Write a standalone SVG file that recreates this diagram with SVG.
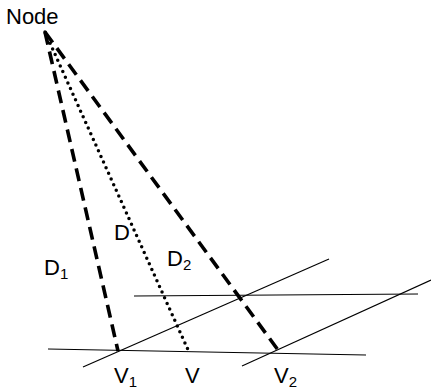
<svg xmlns="http://www.w3.org/2000/svg" width="431" height="391" viewBox="0 0 431 391">
<style>
text{font-family:"Liberation Sans",Arial,sans-serif;fill:#000}
.lbl{font-size:22px}
.sub{font-size:15px}
.thin{stroke:#000;stroke-width:1.2;fill:none}
.dash{stroke:#000;stroke-width:3.6;stroke-dasharray:13 7;fill:none}
.dot{stroke:#000;stroke-width:3.5;stroke-linecap:round;stroke-dasharray:0 6.2;fill:none}
</style>
<rect width="431" height="391" fill="#fff"/>
<g id="planes">
<line class="thin" x1="48" y1="349" x2="366" y2="355"/>
<line class="thin" x1="134" y1="296" x2="418" y2="294"/>
<line class="thin" x1="83" y1="367" x2="329" y2="259"/>
<line class="thin" x1="242" y1="366" x2="431" y2="280"/>
</g>
<g id="connectors">
<line class="dash" x1="45" y1="32" x2="118" y2="351"/>
<line class="dot" x1="45" y1="32" x2="189" y2="352"/>
<line class="dash" x1="45" y1="32" x2="278" y2="350"/>
</g>
<g id="node"><text class="lbl" x="6" y="24">Node</text></g>
<g id="d1"><text class="lbl" x="44" y="275">D<tspan class="sub" dy="4">1</tspan></text></g>
<g id="d"><text class="lbl" x="114" y="240">D</text></g>
<g id="d2"><text class="lbl" x="167" y="266">D<tspan class="sub" dy="4">2</tspan></text></g>
<g id="v1"><text class="lbl" x="114" y="383">V<tspan class="sub" dy="4">1</tspan></text></g>
<g id="v"><text class="lbl" x="185" y="383">V</text></g>
<g id="v2"><text class="lbl" x="274" y="383">V<tspan class="sub" dy="4">2</tspan></text></g>
</svg>
